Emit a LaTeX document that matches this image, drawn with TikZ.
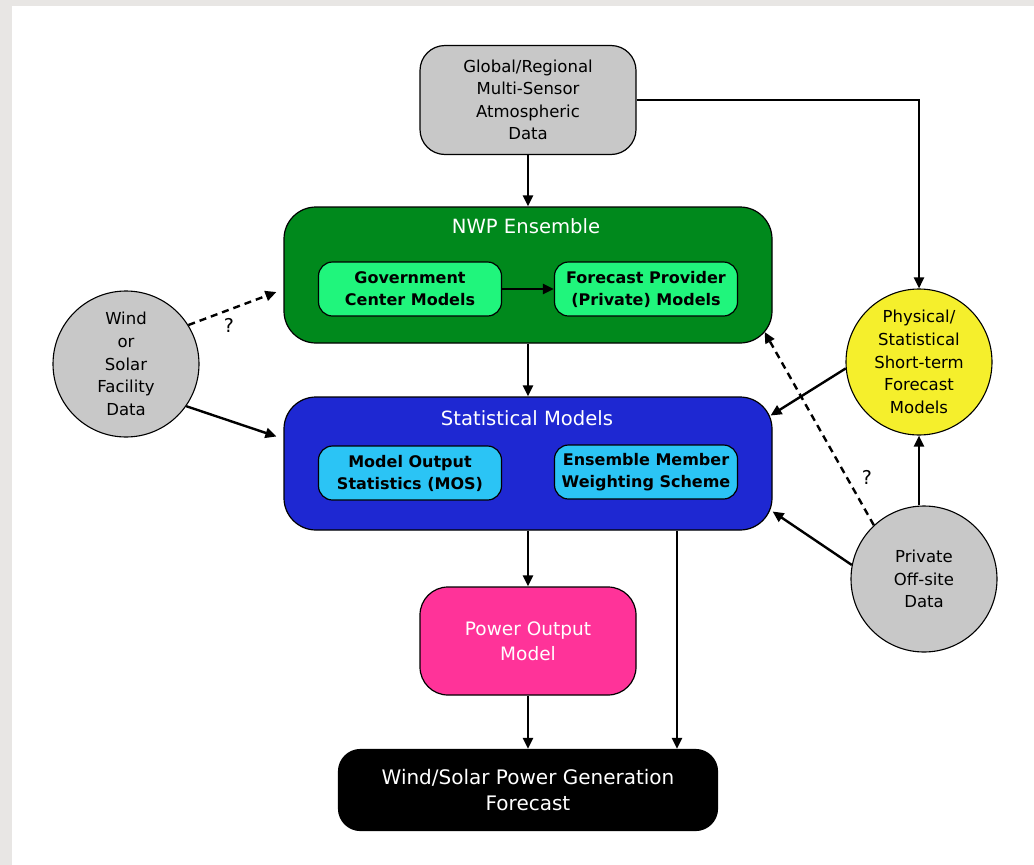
\documentclass[tikz,border=0pt]{standalone}
\usepackage{fontspec}
\setmainfont{DejaVu Sans}
\usetikzlibrary{arrows.meta,calc}
\definecolor{cgray}{RGB}{200,200,200}
\definecolor{cgreen}{RGB}{0,137,28}
\definecolor{clgreen}{RGB}{32,245,124}
\definecolor{cblue}{RGB}{30,40,210}
\definecolor{clblue}{RGB}{43,196,245}
\definecolor{cpink}{RGB}{255,51,153}
\definecolor{cyellow}{RGB}{245,239,44}
\definecolor{cbg}{RGB}{232,230,228}
\tikzset{
  rbox/.style={draw=black, line width=1.2pt, rectangle, align=center, inner sep=0pt},
  inbox/.style={rbox, rounded corners=14pt, minimum width=183pt, minimum height=54pt,
    font=\bfseries\fontsize{16}{22}\selectfont},
  circ/.style={circle, draw=black, line width=1.1pt, minimum size=146pt, inner sep=0pt,
    align=center, font=\fontsize{16.5}{22.6}\selectfont},
  title/.style={text=white, font=\fontsize{19.6}{24}\selectfont},
  arr/.style={-{Triangle[length=11pt,width=10pt]}, line width=2.4pt},
  darr/.style={arr, dashed, dash pattern=on 7pt off 5pt},
  qmark/.style={font=\fontsize{19}{22}\selectfont}
}
\begin{document}
\begin{tikzpicture}[x=1pt,y=-1pt]
\fill[cbg] (0,0) rectangle (1034,865);
\fill[white] (12,6) rectangle (1034,865);
\useasboundingbox (0,0) rectangle (1034,865);

% top data box
\node[rbox, fill=cgray, rounded corners=25pt, minimum width=216pt, minimum height=109pt,
  font=\fontsize{16.5}{22.5}\selectfont] (glob) at (528,100)
  {Global/Regional\\Multi-Sensor\\Atmospheric\\Data};

% NWP ensemble
\node[rbox, fill=cgreen, rounded corners=32pt, minimum width=488pt, minimum height=136pt] (nwp) at (528,275) {};
\node[title] (nwpt) at (526,226) {NWP Ensemble};
\node[inbox, fill=clgreen] (gov) at (410,289) {Government\\Center Models};
\node[inbox, fill=clgreen] (fp) at (646,289) {Forecast Provider\\(Private) Models};

% Statistical models
\node[rbox, fill=cblue, rounded corners=32pt, minimum width=488pt, minimum height=133pt] (stat) at (528,463.5) {};
\node[title] (statt) at (527,418) {Statistical Models};
\node[inbox, fill=clblue] (mos) at (410,473) {Model Output\\Statistics (MOS)};
\node[inbox, fill=clblue] (ems) at (646,472) {Ensemble Member\\Weighting Scheme};

% Power output model
\node[rbox, fill=cpink, rounded corners=28pt, minimum width=216pt, minimum height=108pt,
  text=white, font=\fontsize{18.5}{25}\selectfont] (pom) at (528,641) {Power Output\\Model};

% Final forecast
\node[rbox, fill=black, rounded corners=22pt, minimum width=379pt, minimum height=81pt,
  text=white, font=\fontsize{20}{26}\selectfont] (fin) at (528,790) {Wind/Solar Power Generation\\Forecast};

% circles
\node[circ, fill=cgray] (wind) at (126,364) {Wind\\or\\Solar\\Facility\\Data};
\node[circ, fill=cyellow] (yel) at (919,362) {Physical/\\Statistical\\Short-term\\Forecast\\Models};
\node[circ, fill=cgray] (priv) at (924,579) {Private\\Off-site\\Data};

% connectors
\draw[arr] (glob.south) -- (nwp.north);
\draw[arr] (glob.east) -| (yel.north);
\draw[arr] (gov.east) -- (fp.west);
\draw[arr] (nwp.south) -- (stat.north);
\draw[arr] (stat.south) -- (pom.north);
\draw[arr] (pom.south) -- (fin.north);
\draw[arr] ([xshift=149pt]stat.south) -- ([xshift=149pt]stat.south |- fin.north);

\draw[darr] (wind.32) -- ([xshift=-7pt,yshift=-17pt]nwp.west);
\draw[arr] (wind.-35) -- ([xshift=-7pt,yshift=27pt]stat.west);
\node[qmark] (q1) at (229,325) {?};

\draw[arr] (yel.185) -- ([xshift=-2pt,yshift=48pt]stat.east);
\draw[arr] (priv.169) -- ([xshift=0pt,yshift=-48pt]stat.east);
\draw[darr] (priv.133) -- ([xshift=-8pt,yshift=-57pt]nwp.east);
\draw[arr] (priv.north -| yel.south) -- (yel.south);
\node[qmark] (q2) at (867,477) {?};
\end{tikzpicture}
\end{document}
